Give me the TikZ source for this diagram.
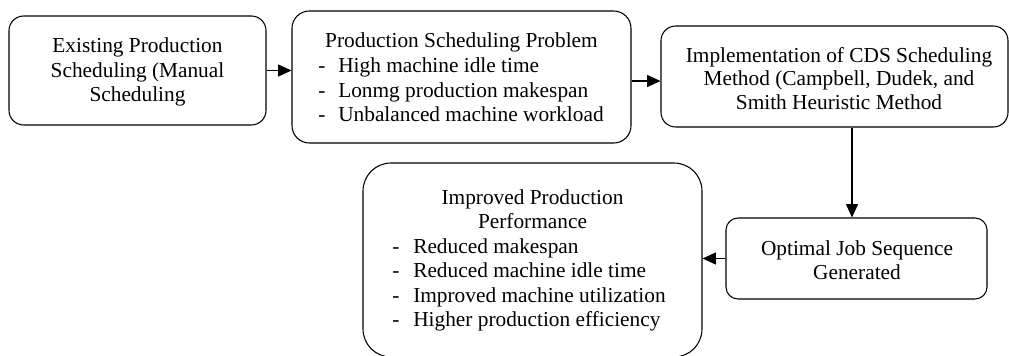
\documentclass[tikz,border=0pt]{standalone}
\usepackage{fontspec}
\setmainfont{Liberation Serif}
\usetikzlibrary{arrows.meta}
\begin{document}
\begin{tikzpicture}[x=0.75pt,y=-0.75pt,
  box/.style={draw=black,line width=0.8pt,rectangle,inner sep=0pt},
  txt/.style={inner sep=0pt,font=\fontsize{16}{18.3}\selectfont},
  arr/.style={draw=black,line width=0.8pt,-{Triangle[length=10pt,width=9pt]}}
]
\useasboundingbox (0,0) rectangle (1009,356);
% boxes
\node[box,rounded corners=11pt,minimum width=257*0.75pt,minimum height=109*0.75pt] (b1) at (137.5,70.5) {};
\node[box,rounded corners=13pt,minimum width=339*0.75pt,minimum height=132*0.75pt] (b2) at (461.5,77) {};
\node[box,rounded corners=11pt,minimum width=347*0.75pt,minimum height=101*0.75pt] (b3) at (834.5,76.5) {};
\node[box,rounded corners=21pt,minimum width=339*0.75pt,minimum height=194*0.75pt] (b4) at (532.5,260) {};
\node[box,rounded corners=9pt,minimum width=261*0.75pt,minimum height=81*0.75pt] (b5) at (856.5,258.5) {};
% box 1 text
\node[txt,anchor=base] (t1a) at (137.5,53) {Existing Production};
\node[txt,anchor=base] (t1b) at (137.5,77.5) {Scheduling (Manual};
\node[txt,anchor=base] (t1c) at (137.5,102) {Scheduling};
% box 2 text
\node[txt,anchor=base] (t2a) at (461.5,48) {Production Scheduling Problem};
\node[txt,anchor=base] (d2a) at (322,73) {-};
\node[txt,anchor=base west] (t2b) at (338,73) {High machine idle time};
\node[txt,anchor=base] (d2b) at (322,97.5) {-};
\node[txt,anchor=base west] (t2c) at (338,97.5) {Lonmg production makespan};
\node[txt,anchor=base] (d2c) at (322,122) {-};
\node[txt,anchor=base west] (t2d) at (338,122) {Unbalanced machine workload};
% box 3 text
\node[txt,anchor=base] (t3a) at (839,62.5) {Implementation of CDS Scheduling};
\node[txt,anchor=base] (t3b) at (839,86) {Method (Campbell, Dudek, and};
\node[txt,anchor=base] (t3c) at (839,109.5) {Smith Heuristic Method};
% box 5 text
\node[txt,anchor=base] (t5a) at (857,255) {Optimal Job Sequence};
\node[txt,anchor=base] (t5b) at (857,279) {Generated};
% box 4 text
\node[txt,anchor=base] (t4a) at (532.5,204) {Improved Production};
\node[txt,anchor=base] (t4b) at (532.5,228.5) {Performance};
\node[txt,anchor=base] (d4a) at (396,253) {-};
\node[txt,anchor=base west] (t4c) at (413,253) {Reduced makespan};
\node[txt,anchor=base] (d4b) at (396,277.5) {-};
\node[txt,anchor=base west] (t4d) at (413,277.5) {Reduced machine idle time};
\node[txt,anchor=base] (d4c) at (396,302) {-};
\node[txt,anchor=base west] (t4e) at (413,302) {Improved machine utilization};
\node[txt,anchor=base] (d4d) at (396,326.5) {-};
\node[txt,anchor=base west] (t4f) at (413,326.5) {Higher production efficiency};
% connectors
\coordinate (a2) at (0,81);
\coordinate (a3) at (852,0);
\draw[arr] (b1.east) -- (b1.east -| b2.west);
\draw[arr] (b2.east |- a2) -- (b3.west |- a2);
\draw[arr] (b3.south -| a3) -- (b5.north -| a3);
\draw[arr] (b5.west) -- (b5.west -| b4.east);
\end{tikzpicture}
\end{document}
